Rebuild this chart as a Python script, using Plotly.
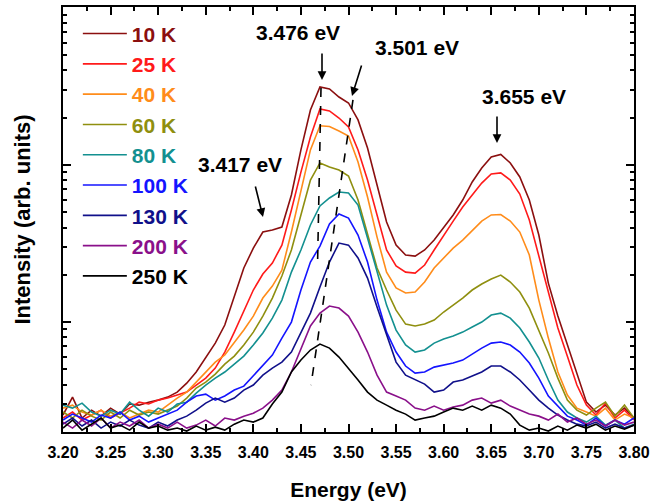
import numpy as np
import plotly.graph_objects as go

# Photon energy grid (eV)
energy_ev = [3.20, 3.21, 3.22, 3.23, 3.24, 3.25, 3.26, 3.27, 3.28, 3.29,
             3.30, 3.31, 3.32, 3.33, 3.34, 3.35, 3.36, 3.37, 3.38, 3.39,
             3.40, 3.41, 3.42, 3.43, 3.44, 3.45, 3.46, 3.47, 3.48, 3.49,
             3.50, 3.51, 3.52, 3.53, 3.54, 3.55, 3.56, 3.57, 3.58, 3.59,
             3.60, 3.61, 3.62, 3.63, 3.64, 3.65, 3.66, 3.67, 3.68, 3.69,
             3.70, 3.71, 3.72, 3.73, 3.74, 3.75, 3.76, 3.77, 3.78, 3.79, 3.80]

temperature_labels = ["10 K", "25 K", "40 K", "60 K", "80 K", "100 K", "130 K", "200 K", "250 K"]
series_colors = ["#8b0f0f", "#ff1a1a", "#ff8c1a", "#8f8f0f", "#139090", "#1414ff", "#10108a", "#8a108a", "#000000"]

# log10 of PL intensity (arb. units)
log_i_10K = [-0.592, -0.478, -0.611, -0.561, -0.599, -0.548, -0.586, -0.522, -0.529, -0.510,
             -0.497, -0.478, -0.446, -0.389, -0.318, -0.229, -0.134, -0.019, 0.159, 0.344,
             0.471, 0.573, 0.586, 0.605, 0.809, 1.096, 1.350, 1.497, 1.484, 1.433,
             1.395, 1.287, 1.108, 0.873, 0.637, 0.490, 0.427, 0.420, 0.459, 0.522,
             0.599, 0.682, 0.777, 0.892, 0.981, 1.051, 1.067, 1.013, 0.924, 0.777,
             0.554, 0.248, 0.038, -0.146, -0.338, -0.510, -0.573, -0.529, -0.592, -0.548, -0.611]
log_i_25K = [-0.611, -0.573, -0.624, -0.592, -0.561, -0.611, -0.580, -0.548, -0.510, -0.522,
             -0.497, -0.484, -0.465, -0.446, -0.401, -0.357, -0.293, -0.191, -0.064, 0.076,
             0.204, 0.306, 0.376, 0.490, 0.713, 0.955, 1.178, 1.357, 1.344, 1.299,
             1.242, 1.096, 0.904, 0.682, 0.459, 0.357, 0.318, 0.312, 0.363, 0.459,
             0.554, 0.643, 0.732, 0.809, 0.885, 0.943, 0.950, 0.904, 0.815, 0.650,
             0.420, 0.191, -0.038, -0.217, -0.401, -0.529, -0.592, -0.516, -0.611, -0.561, -0.624]
log_i_40K = [-0.548, -0.529, -0.573, -0.592, -0.561, -0.599, -0.573, -0.611, -0.586, -0.561,
             -0.573, -0.529, -0.484, -0.446, -0.382, -0.318, -0.255, -0.210, -0.134, -0.051,
             0.038, 0.153, 0.229, 0.331, 0.573, 0.841, 1.096, 1.250, 1.245, 1.217,
             1.185, 1.019, 0.796, 0.541, 0.318, 0.217, 0.185, 0.191, 0.255, 0.344,
             0.408, 0.471, 0.522, 0.586, 0.643, 0.682, 0.685, 0.643, 0.573, 0.427,
             0.140, -0.102, -0.318, -0.465, -0.548, -0.573, -0.599, -0.548, -0.624, -0.586, -0.611]
log_i_60K = [-0.573, -0.611, -0.561, -0.599, -0.624, -0.573, -0.611, -0.561, -0.592, -0.573,
             -0.586, -0.561, -0.535, -0.484, -0.420, -0.382, -0.331, -0.268, -0.217, -0.146,
             -0.064, 0.038, 0.153, 0.293, 0.459, 0.682, 0.904, 1.013, 0.987, 0.968,
             0.930, 0.777, 0.561, 0.344, 0.204, 0.076, -0.013, -0.025, -0.013, 0.013,
             0.064, 0.108, 0.153, 0.204, 0.242, 0.274, 0.299, 0.255, 0.191, 0.089,
             -0.051, -0.197, -0.357, -0.497, -0.561, -0.592, -0.548, -0.510, -0.599, -0.529, -0.611]
log_i_80K = [-0.529, -0.548, -0.516, -0.573, -0.599, -0.561, -0.586, -0.510, -0.561, -0.599,
             -0.548, -0.573, -0.522, -0.510, -0.452, -0.401, -0.357, -0.318, -0.268, -0.217,
             -0.146, -0.070, 0.025, 0.140, 0.318, 0.459, 0.618, 0.739, 0.790, 0.828,
             0.822, 0.745, 0.535, 0.318, 0.108, -0.051, -0.146, -0.191, -0.178, -0.134,
             -0.108, -0.089, -0.064, -0.032, 0.000, 0.045, 0.057, 0.025, -0.038, -0.127,
             -0.229, -0.369, -0.497, -0.573, -0.611, -0.637, -0.599, -0.656, -0.624, -0.675, -0.650]
log_i_100K = [-0.624, -0.586, -0.611, -0.637, -0.592, -0.611, -0.573, -0.624, -0.599, -0.637,
              -0.611, -0.586, -0.561, -0.510, -0.471, -0.459, -0.497, -0.471, -0.433, -0.408,
              -0.344, -0.280, -0.210, -0.102, 0.000, 0.204, 0.382, 0.484, 0.624, 0.688,
              0.662, 0.554, 0.382, 0.140, -0.064, -0.191, -0.280, -0.325, -0.318, -0.287,
              -0.274, -0.261, -0.242, -0.204, -0.166, -0.134, -0.127, -0.146, -0.191, -0.261,
              -0.357, -0.471, -0.535, -0.599, -0.624, -0.656, -0.611, -0.662, -0.624, -0.650, -0.611]
log_i_130K = [-0.650, -0.611, -0.662, -0.624, -0.675, -0.637, -0.662, -0.624, -0.656, -0.675,
              -0.637, -0.662, -0.624, -0.599, -0.561, -0.516, -0.484, -0.510, -0.484, -0.433,
              -0.401, -0.338, -0.293, -0.255, -0.191, -0.064, 0.057, 0.223, 0.382, 0.503,
              0.490, 0.408, 0.280, 0.096, -0.076, -0.255, -0.338, -0.369, -0.395, -0.446,
              -0.433, -0.382, -0.369, -0.344, -0.318, -0.280, -0.280, -0.318, -0.369, -0.433,
              -0.497, -0.548, -0.592, -0.624, -0.650, -0.662, -0.637, -0.675, -0.650, -0.675, -0.656]
log_i_200K = [-0.637, -0.675, -0.624, -0.662, -0.611, -0.675, -0.637, -0.662, -0.624, -0.675,
              -0.650, -0.675, -0.637, -0.675, -0.656, -0.624, -0.662, -0.611, -0.624, -0.599,
              -0.580, -0.548, -0.497, -0.433, -0.318, -0.166, -0.025, 0.057, 0.102, 0.089,
              0.038, -0.064, -0.191, -0.338, -0.446, -0.471, -0.497, -0.548, -0.561, -0.535,
              -0.561, -0.541, -0.529, -0.497, -0.484, -0.516, -0.497, -0.535, -0.561, -0.586,
              -0.599, -0.624, -0.586, -0.637, -0.611, -0.650, -0.624, -0.662, -0.624, -0.656, -0.637]
log_i_250K = [-0.675, -0.624, -0.688, -0.650, -0.611, -0.675, -0.656, -0.688, -0.637, -0.675,
              -0.662, -0.688, -0.675, -0.694, -0.662, -0.688, -0.669, -0.688, -0.650, -0.624,
              -0.637, -0.611, -0.522, -0.446, -0.318, -0.242, -0.178, -0.140, -0.166, -0.223,
              -0.293, -0.369, -0.446, -0.497, -0.529, -0.561, -0.586, -0.624, -0.611, -0.599,
              -0.573, -0.548, -0.561, -0.535, -0.561, -0.529, -0.548, -0.586, -0.656, -0.688,
              -0.675, -0.694, -0.662, -0.688, -0.656, -0.675, -0.650, -0.688, -0.662, -0.682, -0.656]

all_series = [log_i_10K, log_i_25K, log_i_40K, log_i_60K, log_i_80K,
              log_i_100K, log_i_130K, log_i_200K, log_i_250K]

# Dashed guide lines tracking the two peaks
guide1_energy = [3.4711, 3.4674]
guide1_log = [1.490, 0.344]
guide2_energy = [3.5047, 3.4606]
guide2_log = [1.414, -0.401]

# x tick labels
xtick_vals = [3.20, 3.25, 3.30, 3.35, 3.40, 3.45, 3.50, 3.55, 3.60, 3.65, 3.70, 3.75, 3.80]
xtick_text = ["3.20", "3.25", "3.30", "3.35", "3.40", "3.45", "3.50", "3.55", "3.60", "3.65", "3.70", "3.75", "3.80"]

FONT = "Arial, 'Liberation Sans', sans-serif"

fig = go.Figure()
for lab, col, vals in zip(temperature_labels, series_colors, all_series):
    fig.add_trace(go.Scatter(
        x=energy_ev, y=np.power(10.0, vals), mode="lines",
        line=dict(color=col, width=1.6),
        name=f"<span style='color:{col}'>{lab}</span>",
        legendgroup=lab,
    ))

for ge, gl in [(guide1_energy, guide1_log), (guide2_energy, guide2_log)]:
    fig.add_trace(go.Scatter(
        x=ge, y=np.power(10.0, gl), mode="lines",
        line=dict(color="black", width=1.6, dash="dash"),
        showlegend=False, hoverinfo="skip",
    ))

# Full-window figure; the page's default body margin is removed after drawing.
W, H = 652, 501
L, R, T, B = 63, 18, 7, 69
pw, ph = W - L - R, H - T - B

def px(xs):
    return (xs - L) / pw

def py(ys):
    return (H - B - ys) / ph

annots = []
for txt, cx, cy in [("3.476 eV", 298, 32), ("3.501 eV", 417, 47),
                    ("3.655 eV", 524, 96), ("3.417 eV", 240, 165)]:
    annots.append(dict(text=txt, x=px(cx), y=py(cy), xref="paper", yref="paper",
                       showarrow=False, xanchor="center", yanchor="middle",
                       font=dict(size=21, family=FONT, color="black", weight="bold")))
for tx, ty, dx, dy in [(322, 80, 0, -28), (352, 96, 10, -32), (497, 143, 0, -28), (263, 217, -8, -32)]:
    annots.append(dict(text="", x=px(tx), y=py(ty), xref="paper", yref="paper",
                       showarrow=True, ax=dx, ay=dy, arrowhead=2, arrowsize=1.1,
                       arrowwidth=1.6, arrowcolor="black", standoff=0))

minor_y = [v * m for m in (0.1, 1, 10) for v in (2, 3, 4, 5, 6, 7, 8, 9)]

fig.update_layout(
    width=W, height=H,
    margin=dict(l=L, r=R, t=T, b=B, autoexpand=False),
    paper_bgcolor="white", plot_bgcolor="white",
    font=dict(family=FONT, color="black", weight="bold"),
    showlegend=True,
    legend=dict(x=0.026, y=0.985, xanchor="left", yanchor="top",
                bgcolor="rgba(0,0,0,0)", borderwidth=0, itemwidth=44,
                font=dict(size=21, family=FONT, weight="bold"),
                traceorder="grouped", tracegroupgap=0),
    annotations=annots,
    xaxis=dict(range=[3.2, 3.8], tickmode="array", tickvals=xtick_vals, ticktext=xtick_text,
               ticks="inside", ticklen=8, tickwidth=1.5, tickcolor="black",
               showline=True, linewidth=2, linecolor="black", mirror="ticks",
               showgrid=False, zeroline=False, automargin=False,
               ticklabeloverflow="allow",
               tickfont=dict(size=16, family=FONT, weight="bold"),
               ticklabelstandoff=5,
               minor=dict(dtick=0.025, tick0=3.2, ticks="inside", ticklen=4,
                          tickwidth=1.5, tickcolor="black", showgrid=False),
               title=dict(text="Energy (eV)", standoff=27,
                          font=dict(size=21, family=FONT, weight="bold"))),
    yaxis=dict(type="log", range=[-0.70, 2.006],
               tickmode="array", tickvals=[1, 10, 100], showticklabels=False,
               ticks="inside", ticklen=8, tickwidth=1.5, tickcolor="black",
               showline=True, linewidth=2, linecolor="black", mirror="ticks",
               showgrid=False, zeroline=False, automargin=False,
               minor=dict(tickmode="array", tickvals=minor_y, ticks="inside",
                          ticklen=4, tickwidth=1.5, tickcolor="black", showgrid=False),
               title=dict(text="Intensity (arb. units)", standoff=24,
                          font=dict(size=22, family=FONT, weight="bold"))),
)

fig.write_html("out.html", config={"displayModeBar": False},
               post_script="document.body.style.margin='0';document.body.style.overflow='hidden';")
